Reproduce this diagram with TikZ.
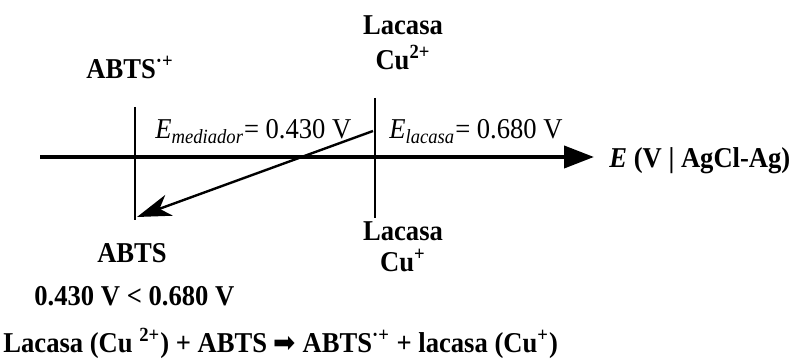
\documentclass[tikz,border=0pt]{standalone}
\usepackage{fontspec}
\setmainfont{Liberation Serif}
\newfontfamily\symfont{DejaVu Sans}
\usetikzlibrary{arrows.meta}
\begin{document}
\begin{tikzpicture}[x=0.5pt,y=-0.5pt,
  lbl/.style={font=\fontsize{13.3}{15}\selectfont\bfseries, inner sep=0pt, anchor=base, yscale=1.08},
  val/.style={font=\fontsize{13.3}{15}\selectfont, inner sep=0pt, anchor=base west, yscale=1.08},
  tickline/.style={line width=0.7pt},
  axisline/.style={line width=2pt, -{Triangle[length=15pt,width=11pt]}},
  moveline/.style={line width=1.2pt, -{Stealth[length=17pt,width=11pt,inset=5pt]}}]
\useasboundingbox (0,0) rectangle (794,362);
% axis
\coordinate (ax0) at (40,157);
\coordinate (ax1) at (594,157);
\draw[axisline] (ax0) -- (ax1);
% vertical lines
\coordinate (l0) at (135,107);
\coordinate (l1) at (135,220);
\coordinate (r0) at (375,98);
\coordinate (r1) at (375,218);
\draw[tickline] (l0) -- (l1);
\draw[tickline] (r0) -- (r1);
% electron transfer arrow
\coordinate (m0) at (373,131);
\coordinate (m1) at (137,217);
\draw[moveline] (m0) -- (m1);
% labels
\node[lbl] (abtsox) at (130,79) {ABTS\textsuperscript{·+}};
\node[lbl] (lac1) at (403,35) {Lacasa};
\node[lbl] (cu2) at (403,70) {Cu\textsuperscript{2+}};
\node[lbl] (lac2) at (403,241) {Lacasa};
\node[lbl] (cu1) at (403,272) {Cu\textsuperscript{+}};
\node[lbl] (abts) at (132,263) {ABTS};
\node[val] (emed) at (155,139) {\textit{E}\textsubscript{\textit{mediador}}= 0.430 V};
\node[val] (elac) at (389,139) {\textit{E}\textsubscript{\textit{lacasa}}= 0.680 V};
\node[lbl, anchor=base west] (eaxis) at (609,168) {\textit{E} (V | AgCl-Ag)};
\node[lbl, anchor=base west] (cmp) at (34,306) {0.430 V < 0.680 V};
\node[lbl, anchor=base west] (eq) at (3,353) {Lacasa (Cu \textsuperscript{2+}) + ABTS {\symfont\mdseries ➡} ABTS\textsuperscript{·+} + lacasa (Cu\textsuperscript{+})};
\end{tikzpicture}
\end{document}
